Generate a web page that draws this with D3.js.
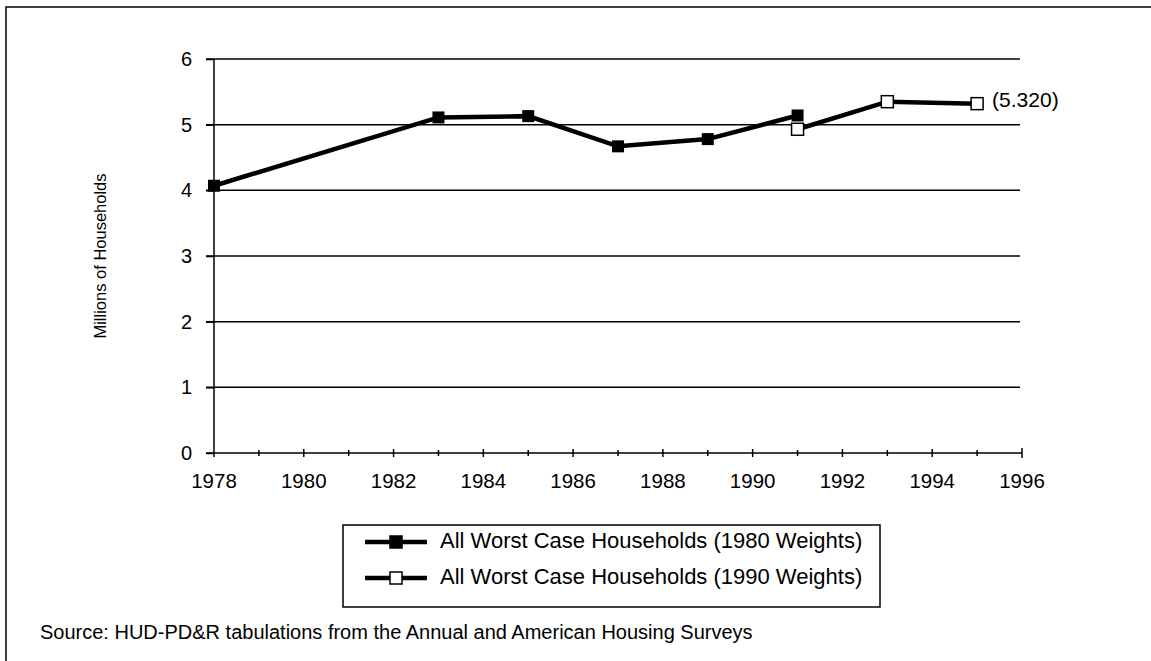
<!DOCTYPE html>
<html>
  <head>
    <meta charset="utf-8" />
    <title>Worst Case Households</title>
    <script src="https://d3js.org/d3.v7.min.js" charset="utf-8"></script>
    <style>
      html,
      body {
        margin: 0;
        padding: 0;
        background-color: white;
        font-family: "Liberation Sans", Arial, sans-serif;
      }
    </style>
  </head>
  <body>
    <svg id="chart"></svg>
    <script>
      // Data
      const years80 = [1978, 1983, 1985, 1987, 1989, 1991];
      const values80 = [4.07, 5.11, 5.13, 4.67, 4.78, 5.14];
      const years90 = [1991, 1993, 1995];
      const values90 = [4.93, 5.35, 5.32];
      const yTicks = [0, 1, 2, 3, 4, 5, 6];
      const xLabels = [1978, 1980, 1982, 1984, 1986, 1988, 1990, 1992, 1994, 1996];
      const seriesNames = [
        "All Worst Case Households (1980 Weights)",
        "All Worst Case Households (1990 Weights)",
      ];
      const endLabel = "(5.320)";

      const width = 1151;
      const height = 661;

      // plot area
      const pLeft = 214;
      const pRight = 1022;
      const pTop = 59;
      const pBottom = 453;

      const svg = d3
        .select("#chart")
        .attr("width", width)
        .attr("height", height);

      // outer frame (top and left only)
      svg
        .append("path")
        .attr("d", `M6,${height} V7 H${width}`)
        .attr("fill", "none")
        .attr("stroke", "black")
        .attr("stroke-width", 1.5);

      const x = d3.scaleLinear().domain([1978, 1996]).range([pLeft, pRight]);
      const y = d3.scaleLinear().domain([0, 6]).range([pBottom, pTop]);

      // gridlines
      svg
        .append("g")
        .selectAll("line")
        .data(yTicks.filter((d) => d > 0))
        .enter()
        .append("line")
        .attr("x1", pLeft - 8)
        .attr("x2", pRight - 2)
        .attr("y1", (d) => y(d))
        .attr("y2", (d) => y(d))
        .attr("stroke", "black")
        .attr("stroke-width", 1.5);

      // y axis
      const yAxis = d3
        .axisLeft(y)
        .tickValues(yTicks)
        .tickFormat(d3.format("d"))
        .tickSize(8)
        .tickPadding(14);
      const yg = svg.append("g").attr("transform", `translate(${pLeft},0)`).call(yAxis);
      yg.select(".domain").remove();
      yg.selectAll("line").attr("stroke-width", 1.5);
      yg.selectAll("text")
        .attr("font-size", 20)
        .attr("font-family", "Liberation Sans, Arial, sans-serif")
        .attr("fill", "black");
      svg
        .append("line")
        .attr("x1", pLeft)
        .attr("x2", pLeft)
        .attr("y1", pTop)
        .attr("y2", pBottom + 4)
        .attr("stroke", "black")
        .attr("stroke-width", 1.5);

      // x axis
      const xg = svg.append("g").attr("transform", `translate(0,${pBottom})`);
      xg.append("line")
        .attr("x1", pLeft - 8)
        .attr("x2", pRight)
        .attr("stroke", "black")
        .attr("stroke-width", 1.5);
      xg.selectAll(".tick")
        .data(d3.range(1979, 1997))
        .enter()
        .append("line")
        .attr("x1", (d) => x(d))
        .attr("x2", (d) => x(d))
        .attr("y1", (d) => (d === 1996 ? -5 : d % 2 === 0 ? -4 : -3))
        .attr("y2", (d) => (d === 1996 ? 5 : d % 2 === 0 ? 4 : 3))
        .attr("stroke", "black")
        .attr("stroke-width", 1.5);
      xg.selectAll(".lbl")
        .data(xLabels)
        .enter()
        .append("text")
        .attr("x", (d) => x(d))
        .attr("y", 35)
        .attr("text-anchor", "middle")
        .attr("font-size", 20.5)
        .text((d) => d);

      // y title
      svg
        .append("text")
        .attr("transform", `translate(106,${(pTop + pBottom) / 2}) rotate(-90)`)
        .attr("text-anchor", "middle")
        .attr("font-size", 16.5)
        .text("Millions of Households");

      // lines
      const line = d3
        .line()
        .x((d) => x(d[0]))
        .y((d) => y(d[1]));
      const pts80 = years80.map((d, i) => [d, values80[i]]);
      const pts90 = years90.map((d, i) => [d, values90[i]]);

      [pts80, pts90].forEach((pts) => {
        svg
          .append("path")
          .datum(pts)
          .attr("d", line)
          .attr("fill", "none")
          .attr("stroke", "black")
          .attr("stroke-width", 4.5);
      });

      const ms = 12;
      svg
        .append("g")
        .selectAll("rect")
        .data(pts80)
        .enter()
        .append("rect")
        .attr("x", (d) => x(d[0]) - ms / 2)
        .attr("y", (d) => y(d[1]) - ms / 2)
        .attr("width", ms)
        .attr("height", ms)
        .attr("fill", "black");
      svg
        .append("g")
        .selectAll("rect")
        .data(pts90)
        .enter()
        .append("rect")
        .attr("x", (d) => x(d[0]) - ms / 2)
        .attr("y", (d) => y(d[1]) - ms / 2)
        .attr("width", ms)
        .attr("height", ms)
        .attr("fill", "white")
        .attr("stroke", "black")
        .attr("stroke-width", 1.5);

      // end label
      const last = pts90[pts90.length - 1];
      svg
        .append("text")
        .attr("x", x(last[0]) + 15)
        .attr("y", y(last[1]) - 2)
        .attr("font-size", 21)
        .attr("dominant-baseline", "middle")
        .text(endLabel);

      // legend
      const lg = svg.append("g").attr("transform", "translate(343,525)");
      lg.append("rect")
        .attr("width", 537)
        .attr("height", 82)
        .attr("fill", "white")
        .attr("stroke", "black")
        .attr("stroke-width", 1.5);
      seriesNames.forEach((name, i) => {
        const ly = 17 + i * 36;
        lg.append("line")
          .attr("x1", 22)
          .attr("x2", 84)
          .attr("y1", ly)
          .attr("y2", ly)
          .attr("stroke", "black")
          .attr("stroke-width", 4.5);
        lg.append("rect")
          .attr("x", 53 - ms / 2)
          .attr("y", ly - ms / 2)
          .attr("width", ms)
          .attr("height", ms)
          .attr("fill", i === 0 ? "black" : "white")
          .attr("stroke", "black")
          .attr("stroke-width", 1.5);
        lg.append("text")
          .attr("x", 97)
          .attr("y", ly)
          .attr("dominant-baseline", "middle")
          .attr("font-size", 22)
          .text(name);
      });

      // source note
      svg
        .append("text")
        .attr("x", 40)
        .attr("y", 639)
        .attr("font-size", 20)
        .text("Source: HUD-PD&R tabulations from the Annual and American Housing Surveys");
    </script>
  </body>
</html>
